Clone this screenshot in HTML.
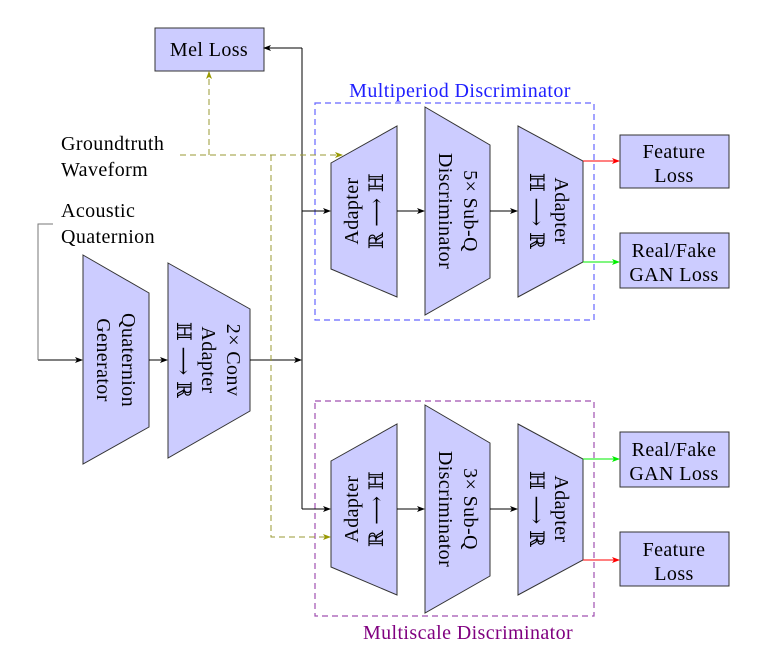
<!DOCTYPE html>
<html><head><meta charset="utf-8"><style>body{margin:0;background:#fff}svg{display:block}text{font-family:"Liberation Serif","DejaVu Serif",serif;font-size:20px;letter-spacing:0.4px}</style></head><body>
<svg width="768" height="662" viewBox="0 0 768 662" xmlns="http://www.w3.org/2000/svg">
<defs>
<marker id="ak" markerWidth="8" markerHeight="6" refX="7" refY="3" orient="auto" markerUnits="userSpaceOnUse"><path d="M0,0 L8,3 L0,6 L2,3z" fill="#000"/></marker>
<marker id="ao" markerWidth="8" markerHeight="6" refX="7" refY="3" orient="auto" markerUnits="userSpaceOnUse"><path d="M0,0 L8,3 L0,6 L2,3z" fill="#999900"/></marker>
<marker id="ar" markerWidth="8" markerHeight="6" refX="7" refY="3" orient="auto" markerUnits="userSpaceOnUse"><path d="M0,0 L8,3 L0,6 L2,3z" fill="#f00"/></marker>
<marker id="ag" markerWidth="8" markerHeight="6" refX="7" refY="3" orient="auto" markerUnits="userSpaceOnUse"><path d="M0,0 L8,3 L0,6 L2,3z" fill="#0e0"/></marker>
</defs>
<g fill="#ccccff" stroke="#333" stroke-width="1">
<rect x="155" y="28" width="109" height="43"/>
<rect x="620" y="135" width="109" height="53"/>
<rect x="620" y="233" width="109" height="55"/>
<rect x="620" y="432" width="109" height="55"/>
<rect x="620" y="532" width="109" height="54"/>
<polygon points="83,255 149,293 149,427 83,464"/>
<polygon points="168,263 250,309 250,411 168,458"/>
<polygon points="331,163 397,126 397,297 331,269"/>
<polygon points="425,107 490,145 490,278 425,315"/>
<polygon points="518,126 583,161 583,262 518,297"/>
<polygon points="331,461 397,424 397,595 331,567"/>
<polygon points="425,405 490,443 490,576 425,613"/>
<polygon points="518,424 583,459 583,560 518,595"/>
</g>
<rect x="315" y="103" width="279" height="217" fill="none" stroke="#6666ff" stroke-width="1.2" stroke-dasharray="6,4"/>
<rect x="315" y="401" width="279" height="215" fill="none" stroke="#a050b0" stroke-width="1.2" stroke-dasharray="6,4"/>
<g stroke="#000" stroke-width="1" fill="none">
<path d="M149,360 H167" marker-end="url(#ak)"/>
<path d="M250,360 H301" marker-end="url(#ak)"/>
<path d="M302,48 V509"/>
<path d="M302,48 H264" marker-end="url(#ak)"/>
<path d="M302,211 H330" marker-end="url(#ak)"/>
<path d="M302,509 H330" marker-end="url(#ak)"/>
<path d="M397,211 H424" marker-end="url(#ak)"/>
<path d="M490,211 H517" marker-end="url(#ak)"/>
<path d="M397,509 H424" marker-end="url(#ak)"/>
<path d="M490,509 H517" marker-end="url(#ak)"/>
<path d="M38,360 H82" marker-end="url(#ak)"/>
</g>
<path d="M53,224 H38 V360" stroke="#777" fill="none"/>
<g stroke="#999933" stroke-width="1" fill="none" stroke-dasharray="6,4">
<path d="M180,155 H342" marker-end="url(#ao)"/>
<path d="M209,155 V72" marker-end="url(#ao)"/>
<path d="M271,155 V537 H330" marker-end="url(#ao)"/>
</g>
<path d="M583,161 H619" stroke="#f00" marker-end="url(#ar)"/>
<path d="M583,262 H619" stroke="#0e0" marker-end="url(#ag)"/>
<path d="M583,459 H619" stroke="#0e0" marker-end="url(#ag)"/>
<path d="M583,560 H619" stroke="#f00" marker-end="url(#ar)"/>
<g text-anchor="middle">
<text x="209" y="56">Mel Loss</text>
<text x="674" y="158">Feature</text><text x="674" y="182">Loss</text>
<text x="674" y="257">Real/Fake</text><text x="674" y="281">GAN Loss</text>
<text x="674" y="456">Real/Fake</text><text x="674" y="480">GAN Loss</text>
<text x="674" y="556">Feature</text><text x="674" y="580">Loss</text>
<text x="460" y="97" fill="#2020ff">Multiperiod Discriminator</text>
<text x="468" y="639" fill="#800080">Multiscale Discriminator</text>
</g>
<text x="61" y="150">Groundtruth</text><text x="61" y="176">Waveform</text>
<text x="61" y="217">Acoustic</text><text x="61" y="243">Quaternion</text>
<g text-anchor="middle">
<g transform="translate(116,360) rotate(90)"><text x="0" y="-6">Quaternion</text><text x="0" y="19">Generator</text></g>
<g transform="translate(209,360) rotate(90)"><text x="0" y="-18">2× Conv</text><text x="0" y="7">Adapter</text><text x="0" y="32">ℍ ⟶ ℝ</text></g>
<g transform="translate(458,211) rotate(90)"><text x="0" y="-6">5× Sub-Q</text><text x="0" y="19">Discriminator</text></g>
<g transform="translate(549,211) rotate(90)"><text x="0" y="-6">Adapter</text><text x="0" y="19">ℍ ⟶ ℝ</text></g>
<g transform="translate(364,211) rotate(-90)"><text x="0" y="-6">Adapter</text><text x="0" y="19">ℝ ⟶ ℍ</text></g>
<g transform="translate(458,509) rotate(90)"><text x="0" y="-6">3× Sub-Q</text><text x="0" y="19">Discriminator</text></g>
<g transform="translate(549,509) rotate(90)"><text x="0" y="-6">Adapter</text><text x="0" y="19">ℍ ⟶ ℝ</text></g>
<g transform="translate(364,509) rotate(-90)"><text x="0" y="-6">Adapter</text><text x="0" y="19">ℝ ⟶ ℍ</text></g>
</g>
</svg>
</body></html>
